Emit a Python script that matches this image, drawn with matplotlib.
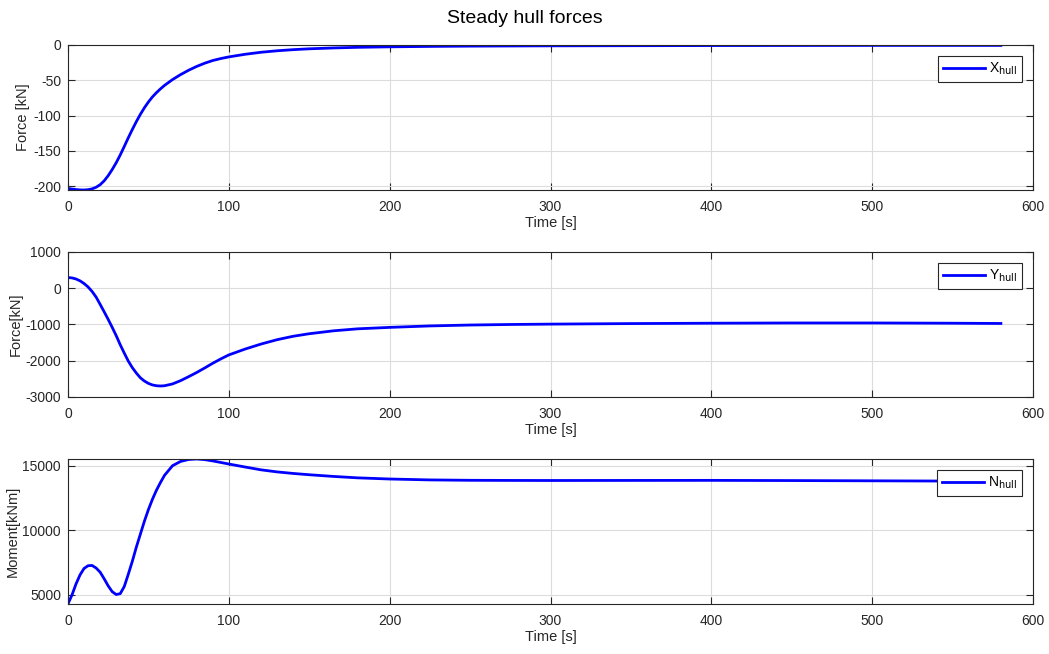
import matplotlib.pyplot as plt

plt.rcParams['font.family'] = ['Liberation Sans', 'DejaVu Sans']
plt.rcParams['axes.unicode_minus'] = False

# simulation time [s]
t = [0, 2.5, 5, 7.5, 10, 12.5, 15, 17.5, 20, 22.5, 25, 27.5, 30, 32.5, 35, 37.5,
     40, 42.5, 45, 47.5, 50, 52.5, 55, 57.5, 60, 65, 70, 75, 80, 85, 90, 95, 100,
     110, 120, 130, 140, 150, 165, 180, 200, 225, 250, 275, 300, 350, 400, 450,
     500, 550, 580]

# surge force [kN]
x_hull = [-203.3, -204.2, -204.9, -205.4, -205.5, -205.1, -203.9, -201.6, -198.0,
          -192.5, -185.2, -176.5, -166.8, -155.8, -143.8, -131.5, -119.8, -108.6,
          -98.3, -89.0, -80.8, -73.6, -67.6, -62.2, -57.3, -49.0, -42.0, -35.8,
          -30.4, -25.8, -22.0, -19.2, -16.9, -13.2, -10.3, -8.2, -6.6, -5.4, -4.2,
          -3.3, -2.6, -2.0, -1.6, -1.4, -1.2, -1.0, -0.8, -0.7, -0.6, -0.6, -0.6]

# sway force [kN]
y_hull = [295, 285, 255, 204, 130, 35, -90, -245, -445, -650, -860, -1080, -1310,
          -1560, -1790, -2010, -2190, -2340, -2470, -2560, -2625, -2668, -2690,
          -2697, -2690, -2640, -2550, -2440, -2325, -2200, -2070, -1950, -1840,
          -1680, -1540, -1420, -1325, -1255, -1175, -1120, -1080, -1040, -1015,
          -1000, -990, -975, -965, -958, -958, -965, -972]

# yaw moment [kNm]
n_hull = [4300, 5000, 5850, 6550, 7050, 7260, 7280, 7080, 6760, 6250, 5700, 5250,
          5030, 5100, 5650, 6600, 7600, 8700, 9700, 10700, 11600, 12400, 13100,
          13700, 14250, 15000, 15330, 15480, 15520, 15470, 15370, 15250, 15130,
          14900, 14680, 14520, 14400, 14300, 14170, 14060, 13970, 13900, 13870,
          13860, 13855, 13860, 13865, 13850, 13830, 13810, 13800]

panels = [
    (x_hull, r'X$_{\mathrm{hull}}$', 'Force [kN]', (-205.5, 0), [-200, -150, -100, -50, 0]),
    (y_hull, r'Y$_{\mathrm{hull}}$', 'Force[kN]', (-3000, 1000), [-3000, -2000, -1000, 0, 1000]),
    (n_hull, r'N$_{\mathrm{hull}}$', 'Moment[kNm]', (4300, 15520), [5000, 10000, 15000]),
]

tick_col = '#262626'
fig = plt.figure(figsize=(10.49, 6.54), dpi=100)
fig.suptitle('Steady hull forces', fontsize=14, y=0.985, color='black')

left, width, height = 0.0648, 0.920, 0.2217
bottoms = [0.7095, 0.393, 0.0765]

for (vals, lab, ylab, ylim, yticks), b in zip(panels, bottoms):
    ax = fig.add_axes([left, b, width, height])
    ax.plot(t, vals, color='#0000ff', lw=2, label=lab)
    ax.set_xlim(0, 600)
    ax.set_ylim(*ylim)
    ax.set_xticks([0, 100, 200, 300, 400, 500, 600])
    ax.set_yticks(yticks)
    ax.grid(True, color='#dcdcdc', lw=0.8)
    ax.set_axisbelow(True)
    ax.tick_params(direction='in', top=True, right=True, labelsize=10,
                   colors=tick_col, length=5, width=0.8)
    ax.tick_params(axis='x', pad=7)
    ax.tick_params(axis='y', pad=5)
    for s in ax.spines.values():
        s.set_color('#262626')
        s.set_linewidth(0.8)
    ax.set_xlabel('Time [s]', fontsize=10.5, color=tick_col, labelpad=2)
    ax.set_ylabel(ylab, fontsize=10.5, color=tick_col, labelpad=2)
    leg = ax.legend(loc='upper right', fancybox=False, framealpha=1,
                    edgecolor='#262626', fontsize=10, handlelength=3.0,
                    borderaxespad=0.8, borderpad=0.35, handletextpad=0.3)
    leg.get_frame().set_linewidth(0.8)

fig.savefig('out.png', dpi=100)
